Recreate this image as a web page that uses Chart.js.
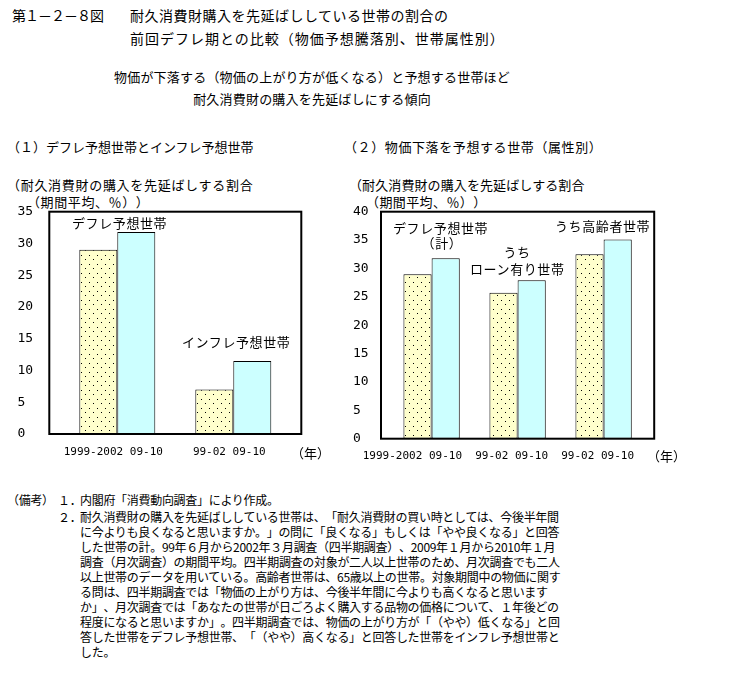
<!DOCTYPE html>
<html lang="ja">
<head>
<meta charset="utf-8">
<script src="https://cdn.jsdelivr.net/npm/chart.js@4/dist/chart.umd.min.js"></script>
<style>
  body { margin: 0; background: #fff; }
  #page { position: relative; width: 731px; height: 677px; overflow: hidden;
          font-family: 'Noto Sans CJK JP', sans-serif; color: #000;
          text-spacing-trim: space-all; }
  .t { position: absolute; white-space: nowrap; line-height: 16px; font-size: 13px; }
  .title { font-size: 14px; letter-spacing: 0.5px; }
  .ann { letter-spacing: 0.6px; }
  .note { font-size: 12px; letter-spacing: -0.3px; line-height: 15px; }
  canvas { position: absolute; }
</style>
</head>
<body>
<div id="page">
  <!-- 表題 -->
  <div class="t title" style="left:12px; top:7px; letter-spacing:-1px;">第１－２－８図</div>
  <div class="t title" style="left:130px; top:7px;">耐久消費財購入を先延ばししている世帯の割合の</div>
  <div class="t title" style="left:130px; top:30px; letter-spacing:1px;">前回デフレ期との比較（物価予想騰落別、世帯属性別）</div>

  <div class="t" style="left:312px; top:69px; transform:translateX(-50%); letter-spacing:0.2px;">物価が下落する（物価の上がり方が低くなる）と予想する世帯ほど</div>
  <div class="t" style="left:312px; top:91px; transform:translateX(-50%); letter-spacing:0.2px;">耐久消費財の購入を先延ばしにする傾向</div>

  <div class="t" style="left:7px; top:139px;">（１）デフレ予想世帯とインフレ予想世帯</div>
  <div class="t" style="left:344px; top:139px; letter-spacing:0.6px;">（２）物価下落を予想する世帯（属性別）</div>

  <!-- 軸タイトル -->
  <div class="t" style="left:7px; top:177px; letter-spacing:0.7px;">（耐久消費財の購入を先延ばしする割合</div>
  <div class="t" style="left:27px; top:194px; letter-spacing:0.6px;">（期間平均、％））</div>
  <div class="t" style="left:349px; top:177px; letter-spacing:0.1px;">（耐久消費財の購入を先延ばしする割合</div>
  <div class="t" style="left:366px; top:194px; letter-spacing:0.4px;">（期間平均、％））</div>

  <canvas id="left" width="340" height="270" style="left:0; top:200px;"></canvas>
  <canvas id="right" width="391" height="270" style="left:340px; top:200px;"></canvas>

  <!-- グラフ内の注記 -->
  <div class="t ann" style="left:72px; top:215px;">デフレ予想世帯</div>
  <div class="t ann" style="left:182px; top:334px;">インフレ予想世帯</div>
  <div class="t ann" style="left:393px; top:220px;">デフレ予想世帯</div>
  <div class="t ann" style="left:442px; top:235px; transform:translateX(-50%);">（計）</div>
  <div class="t ann" style="left:517px; top:244px; transform:translateX(-50%);">うち</div>
  <div class="t ann" style="left:470px; top:261px;">ローン有り世帯</div>
  <div class="t ann" style="left:555px; top:218px;">うち高齢者世帯</div>

  <div class="t" style="left:291px; top:445px;">（年）</div>
  <div class="t" style="left:647px; top:448px;">（年）</div>

  <!-- 備考 -->
  <div class="t note" style="left:7px; top:492px;">（備考）</div>
  <div class="t note" style="left:58px; top:492px;">１．</div>
  <div class="t note" style="left:80px; top:492px;">内閣府「消費動向調査」により作成。</div>
  <div class="t note" style="left:58px; top:509px;">２．</div>
  <div class="t note" style="left:80px; top:509px; white-space:pre;">耐久消費財の購入を先延ばししている世帯は、「耐久消費財の買い時としては、今後半年間
に今よりも良くなると思いますか。」の問に「良くなる」もしくは「やや良くなる」と回答
した世帯の計。99年６月から2002年３月調査（四半期調査）、2009年１月から2010年１月
調査（月次調査）の期間平均。四半期調査の対象が二人以上世帯のため、月次調査でも二人
以上世帯のデータを用いている。高齢者世帯は、65歳以上の世帯。対象期間中の物価に関す
る問は、四半期調査では「物価の上がり方は、今後半年間に今よりも高くなると思います
か」、月次調査では「あなたの世帯が日ごろよく購入する品物の価格について、１年後どの
程度になると思いますか」。四半期調査では、物価の上がり方が「（やや）低くなる」と回
答した世帯をデフレ予想世帯、「（やや）高くなる」と回答した世帯をインフレ予想世帯と
した。</div>
</div>

<script>
// (1) デフレ予想世帯 / インフレ予想世帯
const leftPeriods = [['1999-2002', '09-10'], ['99-02', '09-10']];
const leftPrev = [29.0, 7.0];     // 前回デフレ期（1999-2002）
const leftRecent = [31.8, 11.5];  // 今回（2009-10）

// (2) デフレ予想世帯（計） / うちローン有り世帯 / うち高齢者世帯
const rightPeriods = [['1999-2002', '09-10'], ['99-02', '09-10'], ['99-02', '09-10']];
const rightPrev = [29.0, 25.7, 32.5];
const rightRecent = [31.8, 27.9, 35.1];

const leftTicksMax = 35;
const rightTicksMax = 40;
const tickStep = 5;

// 点々模様の黄色
function dotPattern() {
  const c = document.createElement('canvas');
  c.width = 8; c.height = 9;
  const g = c.getContext('2d');
  g.fillStyle = '#FFFFCC';
  g.fillRect(0, 0, 8, 9);
  g.fillStyle = '#000';
  g.fillRect(1, 1, 1, 1);
  g.fillRect(5, 5, 1, 1);
  return g.createPattern(c, 'repeat');
}

// 外枠（カテゴリ幅より少し広い）
const framePlugin = {
  id: 'frame',
  afterDatasetsDraw(chart, args, opts) {
    const { ctx, chartArea: a } = chart;
    ctx.save();
    ctx.lineWidth = 2;
    ctx.strokeStyle = '#000';
    ctx.strokeRect(a.left - opts.pad, a.top, a.right - a.left + 2 * opts.pad, a.bottom - a.top);
    ctx.restore();
  }
};

function makeChart(id, periods, prev, recent, yMax, s) {
  const ctx = document.getElementById(id).getContext('2d');
  const labels = periods.map(p => p.join(' '));
  return new Chart(ctx, {
    type: 'bar',
    data: {
      labels: labels,
      datasets: [
        { data: prev, backgroundColor: dotPattern(), borderColor: '#000', borderWidth: 1, borderSkipped: false },
        { data: recent, backgroundColor: '#CCFFFF', borderColor: '#000', borderWidth: 1, borderSkipped: false }
      ]
    },
    plugins: [framePlugin],
    options: {
      responsive: false,
      animation: false,
      categoryPercentage: 0.655,
      barPercentage: 1.0,
      layout: { padding: { left: s.left, right: s.right, top: 11.7, bottom: s.bottom } },
      plugins: {
        legend: { display: false },
        tooltip: { enabled: false },
        frame: { pad: s.pad }
      },
      scales: {
        x: {
          grid: { display: false, drawTicks: false },
          border: { display: false },
          ticks: {
            color: '#000',
            font: { family: 'DejaVu Sans Mono', size: 11 },
            padding: s.xPad,
            labelOffset: s.xShift,
            autoSkip: false,
            maxRotation: 0,
            // 先頭ラベルは長いので左へ寄せる
            callback: (v, i) => labels[i] + (i === 0 ? ' '.repeat(s.firstPad) : '')
          },
          afterFit: sc => { sc.height = s.xHeight; }
        },
        y: {
          min: 0,
          max: yMax,
          grid: { display: false, drawTicks: false },
          border: { display: false },
          ticks: {
            stepSize: tickStep,
            color: '#000',
            crossAlign: 'far',
            padding: 0,
            font: { family: 'DejaVu Sans Mono', size: 13 }
          },
          afterFit: sc => { sc.width = s.yWidth; }
        }
      }
    }
  });
}

makeChart('left', leftPeriods, leftPrev, leftRecent, leftTicksMax,
  { left: 17.5, right: 48.7, bottom: 6, xHeight: 30, xPad: 12, xShift: -4, firstPad: 0, yWidth: 41.8, pad: 10 });
makeChart('right', rightPeriods, rightPrev, rightRecent, rightTicksMax,
  { left: 13, right: 84.4, bottom: 3.3, xHeight: 28, xPad: 11, xShift: -6, firstPad: 4, yWidth: 35.6, pad: 7.6 });
</script>
</body>
</html>
